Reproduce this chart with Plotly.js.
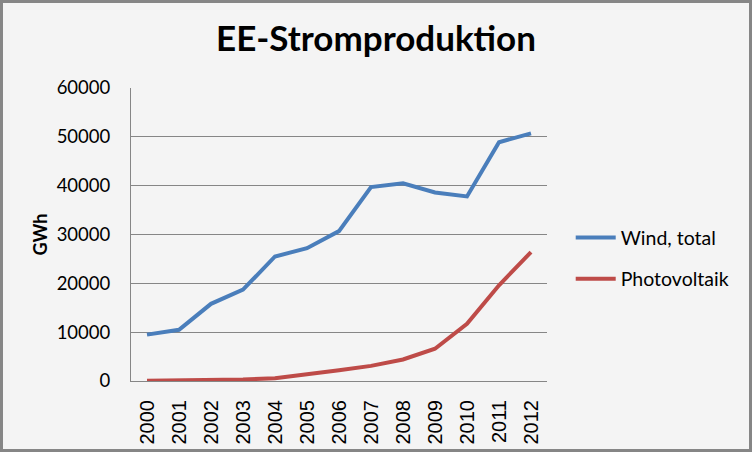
<!DOCTYPE html>
<html>
<head>
<meta charset="utf-8">
<script src="https://cdn.plot.ly/plotly-3.0.1.min.js"></script>
<style>
html,body{margin:0;padding:0;background:#f4f4f4;}
#wrap{position:relative;width:752px;height:452px;}
#chart{width:752px;height:452px;}
#frame{position:absolute;left:0;top:0;width:752px;height:452px;box-sizing:border-box;border:3px solid #868686;pointer-events:none;}
</style>
</head>
<body>
<div id="wrap"><div id="chart"></div><div id="frame"></div></div>
<script>
const years = ["2000","2001","2002","2003","2004","2005","2006","2007","2008","2009","2010","2011","2012"];
const windTotal = [9500, 10500, 15800, 18700, 25500, 27200, 30700, 39700, 40500, 38600, 37800, 48900, 50700];
const photovoltaik = [60, 80, 160, 310, 560, 1280, 2200, 3100, 4400, 6600, 11700, 19600, 26400];
const seriesNames = ["Wind, total", "Photovoltaik"];
const yTicks = [0, 10000, 20000, 30000, 40000, 50000, 60000];

const traces = [
  {x: years, y: windTotal, name: seriesNames[0], type: "scatter", mode: "lines",
   line: {color: "#4a7ebb", width: 4}, legendgroup: "a"},
  {x: years, y: photovoltaik, name: seriesNames[1], type: "scatter", mode: "lines",
   line: {color: "#be4b48", width: 4}, legendgroup: "b"}
];

const layout = {
  width: 752, height: 452,
  paper_bgcolor: "#f4f4f4", plot_bgcolor: "#f4f4f4",
  margin: {l: 131, r: 205, t: 88, b: 71, pad: 0},
  title: {text: "EE-Stromproduktion", x: 0.5, xanchor: "center", y: 0.915, yanchor: "middle",
          font: {family: "Lato", size: 35, color: "#000", weight: 700}},
  xaxis: {type: "category", range: [-0.5, 12.5], tickangle: -90, showgrid: false, showline: true, linecolor: "#868686", linewidth: 1,
          ticks: "", ticklabelstandoff: 10, tickfont: {family: "Liberation Sans, Arial", size: 20, color: "#000"}, fixedrange: true},
  yaxis: {range: [0, 60000], tickvals: yTicks, ticktext: yTicks.map(String), showgrid: true, gridcolor: "#868686", gridwidth: 1,
          showline: true, linecolor: "#868686", linewidth: 1, zeroline: false, ticks: "",
          ticklabelstandoff: 16,
          tickfont: {family: "Lato", size: 18.5, color: "#000"},
          title: {text: "GWh", standoff: 4, font: {family: "Lato", size: 18, color: "#000", weight: 700}}},
  showlegend: true,
  legend: {x: 1.057, y: 0.419, xanchor: "left", yanchor: "middle", bgcolor: "rgba(0,0,0,0)",
           font: {family: "Lato", size: 19.5, color: "#000"}, traceorder: "grouped", tracegroupgap: 13, itemwidth: 40}
};

Plotly.newPlot("chart", traces, layout, {displayModeBar: false, staticPlot: true});
</script>
</body>
</html>
